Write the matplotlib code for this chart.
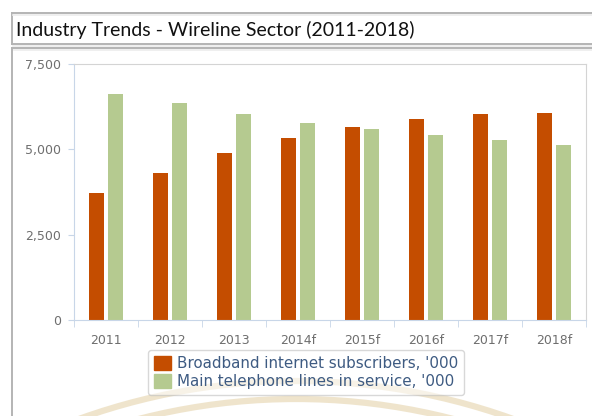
import matplotlib
matplotlib.use("Agg")
import matplotlib.pyplot as plt
import numpy as np
from matplotlib.patches import Arc, Patch
from matplotlib.ticker import FuncFormatter

# wireline sector figures, '000
years = ["2011", "2012", "2013", "2014f", "2015f", "2016f", "2017f", "2018f"]
broadband = [3730, 4320, 4890, 5340, 5660, 5880, 6030, 6060]
main_lines = [6630, 6350, 6030, 5780, 5600, 5410, 5270, 5130]

W, H = 592, 416
orange = "#c44d00"
green = "#b5ca90"


def px(x, y):
    # pixel position (from top-left) to figure fraction
    return x / W, 1 - y / H


fig = plt.figure(figsize=(W / 100, H / 100), dpi=100)
fig.patch.set_facecolor("white")

# background layer in pixel units for frames and watermark
bg = fig.add_axes([0, 0, 1, 1], zorder=0)
bg.set_xlim(0, W)
bg.set_ylim(H, 0)
bg.axis("off")

# faint watermark arcs along the bottom
for top, r in [(381, 640), (399, 630)]:
    bg.add_patch(Arc((296, top + r), 2 * r, 2 * r, theta1=180, theta2=360,
                     color="#eadcbc", lw=4.5, alpha=0.75))

# panel frames
frame = "#b4b4b4"
for xs, ys in [((12, 600), (13, 13)), ((12, 12), (13, 44)), ((12, 600), (44, 44)),
               ((12, 600), (48, 48)), ((12, 12), (48, 420))]:
    bg.plot(xs, ys, color=frame, lw=1.4)
for xs, ys in [((13, 600), (15, 15)), ((13, 600), (46, 46)), ((14, 600), (50, 50))]:
    bg.plot(xs, ys, color="#ececec", lw=1.2)

bg.text(16, 30, "Industry Trends - Wireline Sector (2011-2018)", fontsize=14,
        family="Lato", color="#111111", va="center", ha="left")

# plot area
l, b = px(74, 320)
ax = fig.add_axes([l, b, 512 / W, 256 / H], zorder=1)
ax.patch.set_alpha(0)
x = np.arange(len(years))
bw = 0.225
ax.bar(x - 0.15, broadband, bw, color=orange, zorder=2)
ax.bar(x + 0.15, main_lines, bw, color=green, zorder=2)

ax.set_xlim(-0.5, len(years) - 0.5)
ax.set_ylim(0, 7500)
ax.set_yticks([0, 2500, 5000, 7500])
ax.yaxis.set_major_formatter(FuncFormatter(lambda v, p: "{:,.0f}".format(v)))
ax.set_xticks(x)
ax.set_xticklabels(years)
ax.set_xticks(np.arange(len(years) + 1) - 0.5, minor=True)

axis_col = "#c8d6e8"
for s in ["left", "bottom"]:
    ax.spines[s].set_color(axis_col)
for s in ["top", "right"]:
    ax.spines[s].set_color("#d4d4d4")
ax.tick_params(axis="y", colors=axis_col, labelcolor="#6e6e6e", labelsize=9, length=4, pad=5)
ax.tick_params(axis="x", which="major", length=0, labelcolor="#6e6e6e", labelsize=9, pad=10)
ax.tick_params(axis="x", which="minor", colors=axis_col, length=5)

handles = [Patch(facecolor=orange, edgecolor=orange),
           Patch(facecolor=green, edgecolor=green)]
lx, ly = px(148, 350)
leg = fig.legend(handles, ["Broadband internet subscribers, '000",
                           "Main telephone lines in service, '000"],
                 loc="upper left", bbox_to_anchor=(lx, ly), fontsize=10.9,
                 handlelength=1.1, handleheight=1.0, handletextpad=0.4,
                 labelspacing=0.2, borderpad=0.4, borderaxespad=0,
                 fancybox=True, framealpha=0.55)
leg.get_frame().set_edgecolor("#b8b8b8")
leg.set_zorder(3)
for t in leg.get_texts():
    t.set_color("#3e5b82")

fig.savefig("out.png", dpi=100)
